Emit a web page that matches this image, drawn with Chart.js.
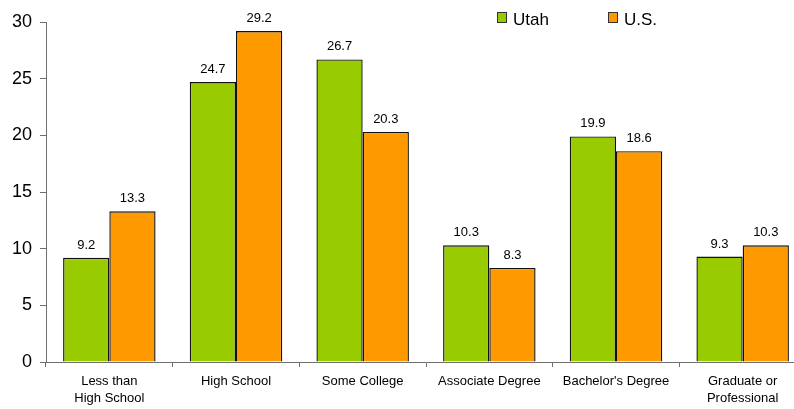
<!DOCTYPE html>
<html>
<head>
<meta charset="utf-8">
<script src="https://cdn.jsdelivr.net/npm/chart.js@4.4.0/dist/chart.umd.min.js"></script>
<style>
  html, body { margin: 0; padding: 0; overflow: hidden; background: #fff; }
  #wrap { position: relative; width: 812px; height: 409px; }
</style>
</head>
<body>
<div id="wrap"><canvas id="myChart"></canvas></div>
<script>
var categories = [['Less than', 'High School'], 'High School', 'Some College', 'Associate Degree', "Bachelor's Degree", ['Graduate or', 'Professional']];
var seriesNames = ['Utah', 'U.S.'];
var utahValues = [9.2, 24.7, 26.7, 10.3, 19.9, 9.3];
var usValues = [13.3, 29.2, 20.3, 8.3, 18.6, 10.3];
var yTicks = [0, 5, 10, 15, 20, 25, 30];

var green = '#99CC00';
var orange = '#FF9900';
var axisColor = '#6f6f6f';
var fontName = '"Liberation Sans", Arial, sans-serif';

// value labels above each bar
var valueLabels = {
  id: 'valueLabels',
  afterDatasetsDraw: function (chart) {
    var ctx = chart.ctx;
    ctx.save();
    ctx.font = '13px ' + fontName;
    ctx.fillStyle = '#000';
    ctx.textAlign = 'center';
    ctx.textBaseline = 'alphabetic';
    chart.data.datasets.forEach(function (ds, i) {
      var meta = chart.getDatasetMeta(i);
      meta.data.forEach(function (bar, j) {
        ctx.fillText(ds.data[j].toFixed(1), bar.x, bar.y - 9);
      });
    });
    ctx.restore();
  }
};

// legend drawn in the top right, like the original
var boxLegend = {
  id: 'boxLegend',
  afterDraw: function (chart) {
    var ctx = chart.ctx;
    var xs = [497, 608];
    ctx.save();
    ctx.font = '17px ' + fontName;
    ctx.textBaseline = 'alphabetic';
    chart.data.datasets.forEach(function (ds, i) {
      ctx.fillStyle = ds.backgroundColor;
      ctx.fillRect(xs[i] + 0.5, 12.5, 9, 10);
      ctx.strokeStyle = '#333';
      ctx.lineWidth = 1;
      ctx.strokeRect(xs[i] + 0.5, 12.5, 9, 10);
      ctx.fillStyle = '#000';
      ctx.fillText(ds.label, xs[i] + 16, 24.5);
    });
    ctx.restore();
  }
};

var ctx = document.getElementById('myChart').getContext('2d');
var myBar = new Chart(ctx, {
  type: 'bar',
  data: {
    labels: categories,
    datasets: [{
      label: seriesNames[0],
      data: utahValues,
      backgroundColor: green,
      borderColor: '#111',
      borderWidth: 1.4,
      borderSkipped: 'bottom'
    }, {
      label: seriesNames[1],
      data: usValues,
      backgroundColor: orange,
      borderColor: '#111',
      borderWidth: 1.4,
      borderSkipped: 'bottom'
    }]
  },
  options: {
    responsive: true,
    maintainAspectRatio: false,
    animation: false,
    categoryPercentage: 0.73,
    barPercentage: 1.0,
    layout: { padding: { top: 22, right: 6, left: 0, bottom: 0 } },
    plugins: {
      legend: { display: false },
      tooltip: { enabled: false }
    },
    scales: {
      x: {
        grid: { display: true, drawOnChartArea: false, drawTicks: true, tickLength: 5, color: axisColor },
        border: { display: true, color: axisColor, width: 1 },
        ticks: {
          color: '#000',
          padding: 6,
          maxRotation: 0,
          autoSkip: false,
          font: { family: fontName, size: 13, lineHeight: 1.28 }
        },
        afterFit: function (scale) { scale.height = 47; }
      },
      y: {
        min: yTicks[0],
        max: yTicks[yTicks.length - 1],
        grid: { display: true, drawOnChartArea: false, drawTicks: true, tickLength: 6, color: axisColor },
        border: { display: true, color: axisColor, width: 1 },
        ticks: {
          stepSize: yTicks[1] - yTicks[0],
          color: '#000',
          padding: 8,
          font: { family: fontName, size: 18 }
        },
        afterFit: function (scale) { scale.width = 46; }
      }
    }
  },
  plugins: [valueLabels, boxLegend]
});
</script>
</body>
</html>
